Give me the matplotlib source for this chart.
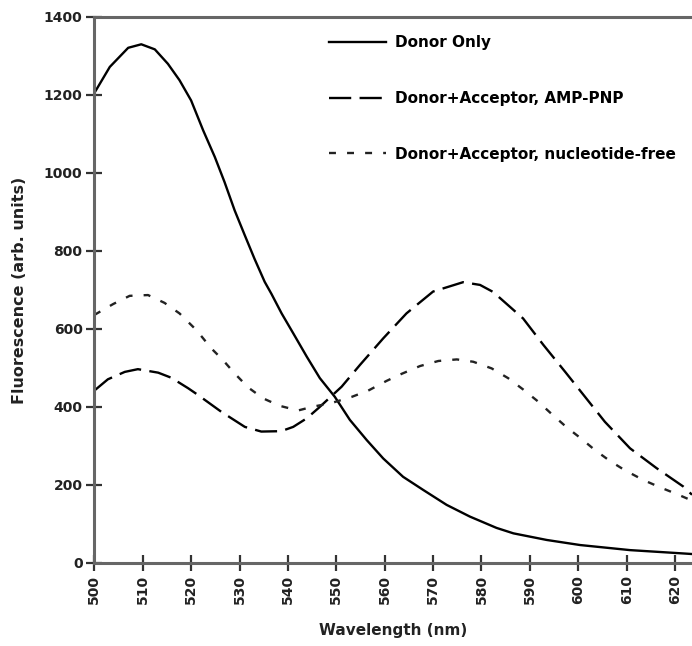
import numpy as np
import matplotlib
matplotlib.use('Agg')
from matplotlib import pyplot as plt

plt.rcParams['font.family'] = ['DejaVu Sans']
plt.rcParams['lines.scale_dashes'] = False

# Donor only (solid)
wl_donor = [500, 503.2, 507.0, 509.7, 512.5, 515.2, 517.6, 520.0, 522.5, 524.9, 526.9, 529.0,
            531.1, 533.1, 535.2, 536.6, 538.7, 541.1, 543.9, 546.6, 549.7, 552.8, 556.3,
            559.7, 563.8, 568.0, 572.8, 577.6, 583.1, 586.6, 593.5, 600.4, 610.7, 621.0, 623.5]
f_donor = [1205, 1272, 1321, 1330, 1317, 1280, 1238, 1186, 1109, 1041, 977, 904,
           840, 780, 721, 690, 640, 589, 529, 474, 426, 367, 315,
           268, 221, 187, 149, 119, 90, 76, 59, 46, 33, 25, 23]

# Donor+Acceptor, AMP-PNP (long dash)
wl_amp = [500, 502.8, 506.3, 509.0, 513.2, 515.9, 519.4, 521.4, 526.2, 531.1, 534.5, 538.6,
          541.1, 543.9, 546.3, 551.1, 554.9, 559.7, 564.5, 570.0, 576.2, 579.7, 582.4,
          588.6, 592.8, 597.3, 601.4, 605.5, 610.7, 616.2, 621.7, 623.5]
f_amp = [442, 471, 490, 497, 488, 475, 448, 431, 388, 349, 337, 338,
         349, 371, 397, 452, 508, 576, 640, 696, 720, 713, 695,
         627, 559, 490, 426, 362, 294, 243, 196, 175]

# Donor+Acceptor, nucleotide-free (short dash)
wl_free = [500, 503.9, 507.3, 511.1, 514.5, 517.6, 521.1, 524.2, 526.6, 529.0, 531.8, 534.9,
           538.3, 542.1, 545.2, 548.7, 553.2, 556.6, 560.4, 563.5, 567.3, 571.1, 574.9,
           578.3, 582.1, 585.5, 588.6, 591.7, 594.5, 597.6, 600.7, 603.4, 606.5, 609.6,
           613.4, 616.9, 620.3, 623.5]
f_free = [636, 664, 685, 687, 667, 640, 597, 550, 520, 486, 450, 422,
          403, 391, 401, 409, 426, 442, 467, 485, 505, 518, 522,
          516, 499, 474, 445, 414, 382, 348, 318, 290, 262, 238,
          213, 194, 177, 160]

labels = ['Donor Only', 'Donor+Acceptor, AMP-PNP', 'Donor+Acceptor, nucleotide-free']

fig = plt.figure(figsize=(6.92, 6.46), dpi=100)
ax = fig.add_axes([0.1363, 0.1285, 0.8637, 0.8452])

lw = 1.7
ax.plot(wl_donor, f_donor, color='black', lw=lw, label=labels[0])
ax.plot(wl_amp, f_amp, color='black', lw=lw, dashes=(16, 6), label=labels[1])
ax.plot(wl_free, f_free, color='#222222', lw=lw, dashes=(5, 8), label=labels[2])

ax.set_xlim(500, 623.5)
ax.set_ylim(0, 1400)
ax.set_xticks(np.arange(500, 621, 10))
ax.set_yticks(np.arange(0, 1401, 200))
ax.tick_params(axis='x', labelrotation=90)
ax.tick_params(direction='inout', length=11, width=1.6, color='#333333',
               labelsize=10, labelcolor='#222222', pad=3)
for lab in ax.get_xticklabels() + ax.get_yticklabels():
    lab.set_fontweight('bold')

for s in ['left', 'bottom', 'top']:
    ax.spines[s].set_color('#666666')
    ax.spines[s].set_linewidth(2.2)
ax.spines['right'].set_visible(False)

ax.set_xlabel('Wavelength (nm)', fontsize=11, fontweight='bold', color='#222222', labelpad=14)
ax.set_ylabel('Fluorescence (arb. units)', fontsize=11.5, fontweight='bold', color='#222222', labelpad=12)

leg = ax.legend(loc='upper left', bbox_to_anchor=(0.383, 0.9775), frameon=False,
                handlelength=3.73, handletextpad=0.6, labelspacing=2.66,
                prop={'size': 11, 'weight': 'bold'}, borderaxespad=0)

fig.savefig('out.png', dpi=100)
